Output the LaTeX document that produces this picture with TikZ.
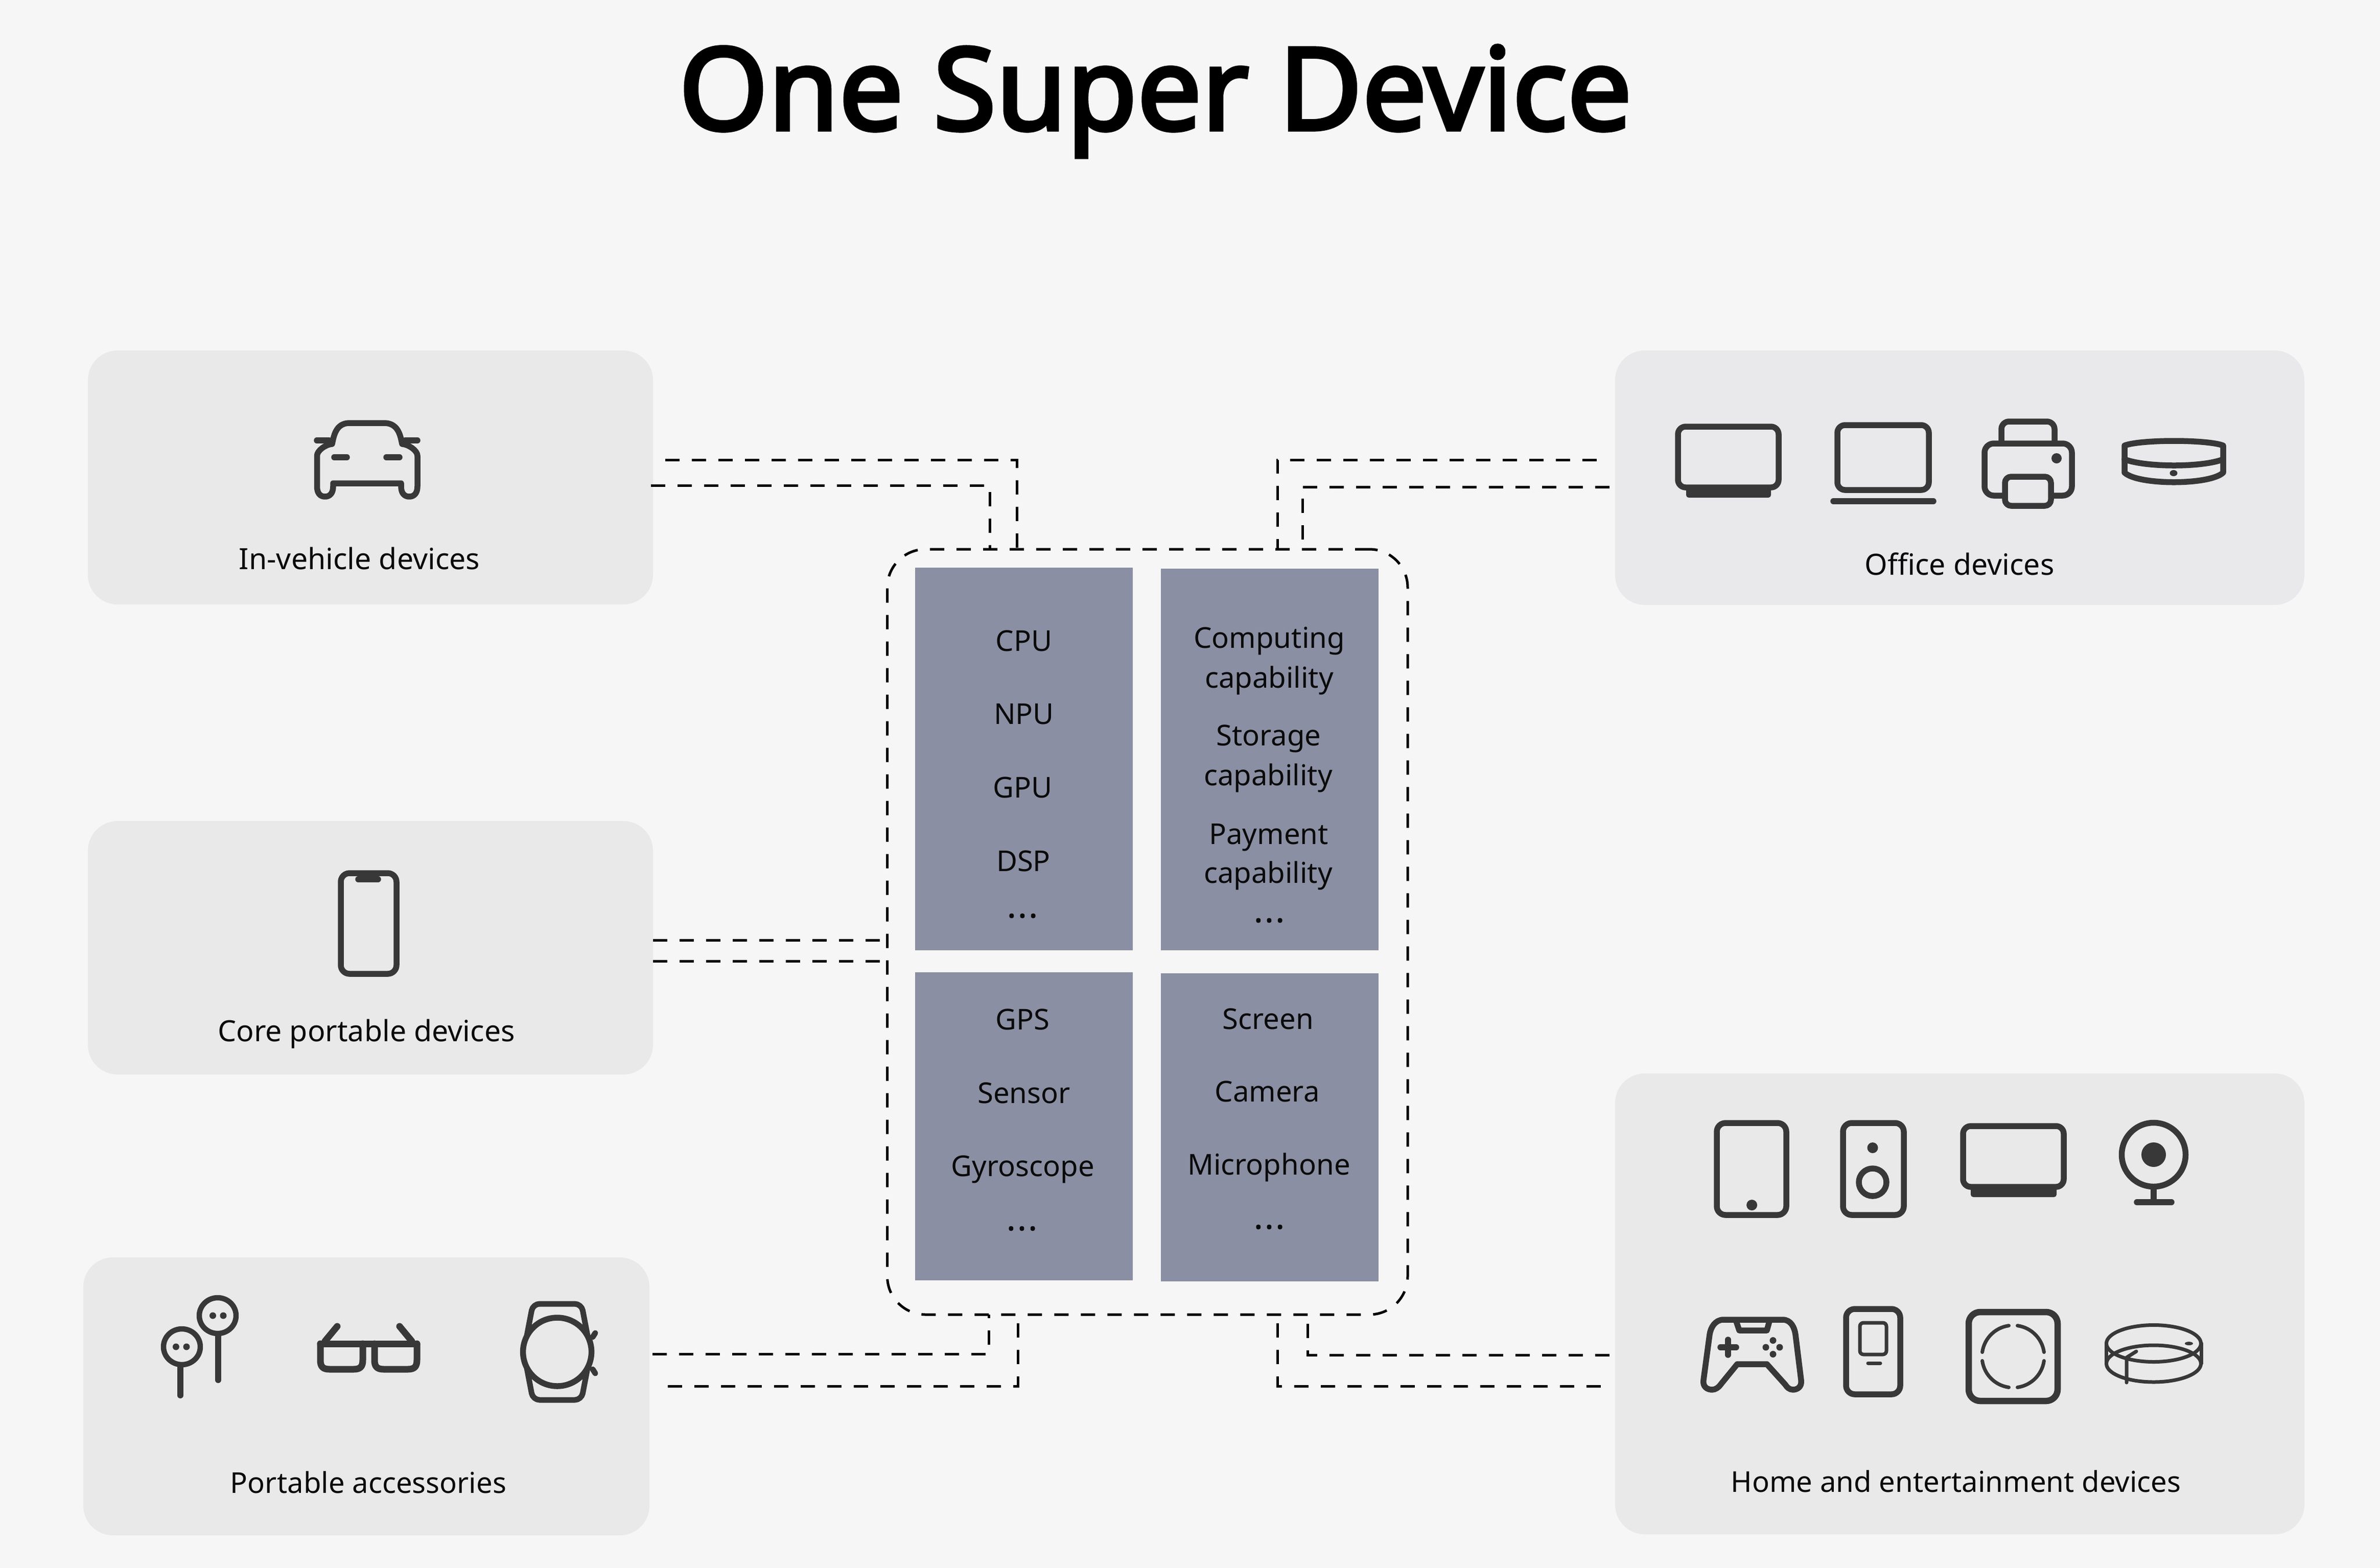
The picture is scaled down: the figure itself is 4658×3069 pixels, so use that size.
\documentclass[tikz,border=0pt]{standalone}
\usepackage{fontspec}
\setmainfont{Noto Sans}
\newfontfamily\titlefont{Noto Sans}[FakeBold=3.2]
\newfontfamily\dotfont{Noto Sans}[FakeBold=1.2]
\newcommand{\mydots}{{\dotfont\fontsize{13}{14}\selectfont .\kern0.75pt.\kern0.75pt.}}
\definecolor{bgc}{HTML}{F6F6F6}
\definecolor{panelc}{HTML}{E9E9E9}
\definecolor{panelo}{HTML}{E9E9EB}
\definecolor{blockc}{HTML}{8A8FA3}
\definecolor{iconc}{HTML}{383838}
\definecolor{txtc}{HTML}{0A0A0A}
\tikzset{
  panelbox/.style={fill=#1,draw=none,rounded corners=11.6pt,inner sep=0},
  blockbox/.style={fill=blockc,draw=none,inner sep=0},
  hubbox/.style={draw=black,line width=1pt,dash pattern=on 5.6pt off 4.8pt,rounded corners=15pt,inner sep=0},
  link/.style={draw=black,line width=1pt,dash pattern=on 5.6pt off 4.8pt},
  lab/.style={anchor=base,inner sep=0,text=txtc,font=\fontsize{11.25}{14}\selectfont},
  wide lab/.style={anchor=base,inner sep=0,text=txtc,font=\fontsize{11.45}{14}\selectfont},
  icon/.style={draw=iconc,line width=2.3pt,line cap=round,line join=round},
  thin icon/.style={draw=iconc,line width=1.4pt,line cap=round,line join=round},
  solid dot/.style={fill=iconc,draw=none},
}
\begin{document}
\begin{tikzpicture}[x=0.2pt,y=-0.2pt]
\path[fill=bgc,use as bounding box] (0,0) rectangle (4658,3069);
% panels
\node[panelbox=panelc,minimum width=221.2pt,minimum height=99.4pt] (car) at (725,934.5) {};
\node[panelbox=panelc,minimum width=221.2pt,minimum height=99.2pt] (core) at (725,1855) {};
\node[panelbox=panelc,minimum width=221.6pt,minimum height=108.8pt] (acc) at (717,2733) {};
\node[panelbox=panelo,minimum width=269.8pt,minimum height=99.6pt] (office) at (3835.5,935) {};
\node[panelbox=panelc,minimum width=269.8pt,minimum height=180.4pt] (home) at (3835.5,2552) {};
% hub and blocks
\node[hubbox,minimum width=203.7pt,minimum height=299.6pt] (hub) at (2245.75,1824) {};
\node[blockbox,minimum width=85.2pt,minimum height=149.8pt] (b1) at (2004,1485.5) {};
\node[blockbox,minimum width=85.2pt,minimum height=149.4pt] (b2) at (2485,1486.5) {};
\node[blockbox,minimum width=85.2pt,minimum height=120.6pt] (b3) at (2004,2204.5) {};
\node[blockbox,minimum width=85.2pt,minimum height=120.6pt] (b4) at (2485,2206.5) {};
% connector ends
\coordinate (carA) at (1302,900);
\coordinate (carB) at (1274,950);
\coordinate (hubA) at (1990,1075);
\coordinate (hubB) at (1937,1075);
\coordinate (offA) at (3125,900);
\coordinate (offB) at (3150,953);
\coordinate (hubC) at (2500,1075);
\coordinate (hubD) at (2549,1075);
\coordinate (coreA) at (1278,1840);
\coordinate (coreB) at (1278,1881);
\coordinate (hubE) at (1736.5,1840);
\coordinate (hubF) at (1736.5,1881);
\coordinate (accA) at (1277,2650);
\coordinate (accB) at (1307,2713);
\coordinate (hubG) at (1935,2573);
\coordinate (hubH) at (1992,2573);
\coordinate (homeA) at (3150,2652);
\coordinate (homeB) at (3133,2713);
\coordinate (hubI) at (2559,2573);
\coordinate (hubJ) at (2500,2573);
\draw[link] (carA) -| (hubA);
\draw[link] (carB) -| (hubB);
\draw[link] (offA) -| (hubC);
\draw[link] (offB) -| (hubD);
\draw[link] (coreA) -- (hubE);
\draw[link] (coreB) -- (hubF);
\draw[link] (accA) -| (hubG);
\draw[link] (accB) -| (hubH);
\draw[link] (homeA) -| (hubI);
\draw[link] (homeB) -| (hubJ);
% title
\node[anchor=base,inner sep=0,text=black,font=\titlefont\fontsize{44.8}{50}\selectfont] (title) at (2261,254) {One Super Device};
% panel labels
\node[wide lab] (lcar) at (703.5,1114) {In-vehicle devices};
\node[wide lab] (lcore) at (717,2038) {Core portable devices};
\node[lab] (lacc) at (721,2922) {Portable accessories};
\node[wide lab] (loff) at (3835,1125) {Office devices};
\node[lab] (lhome) at (3828,2920) {Home and entertainment devices};
% block texts
\node[lab] (t1) at (2004,1274) {CPU};
\node[lab] (t2) at (2004,1417) {NPU};
\node[lab] (t3) at (2002,1561) {GPU};
\node[lab] (t4) at (2003,1705.5) {DSP};
\node[lab] (t5) at (2001,1796) {\mydots};
\node[lab] (t6) at (2484,1268) {Computing};
\node[lab] (t7) at (2484,1346) {capability};
\node[lab] (t8) at (2483,1459) {Storage};
\node[lab] (t9) at (2482,1537) {capability};
\node[lab] (t10) at (2483,1652) {Payment};
\node[lab] (t11) at (2482,1728.5) {capability};
\node[lab] (t12) at (2484,1805) {\mydots};
\node[lab] (t13) at (2001,2015) {GPS};
\node[lab] (t14) at (2004,2159) {Sensor};
\node[lab] (t15) at (2002,2302) {Gyroscope};
\node[lab] (t16) at (2000,2408) {\mydots};
\node[lab] (t17) at (2482,2014) {Screen};
\node[lab] (t18) at (2480,2156) {Camera};
\node[lab] (t19) at (2483.5,2299.5) {Microphone};
\node[lab] (t20) at (2484,2405) {\mydots};
% --- car
\draw[icon] (620.5,892) -- (620.5,952) .. controls (620.5,966) and (627,972) .. (636,972) .. controls (645,972) and (652,966) .. (652,952) -- (652,946) -- (785,946) -- (785,952) .. controls (785,966) and (792,972) .. (801,972) .. controls (810,972) and (817,966) .. (817,952) -- (817,892) .. controls (817,882) and (800,870) .. (787,869) .. controls (784,856) and (781,828) .. (752,828) -- (684,828) .. controls (656,828) and (653,856) .. (650,869) .. controls (637,870) and (620.5,882) .. cycle;
\draw[icon] (620,862) -- (644,862);
\draw[icon] (793,862) -- (817,862);
\draw[icon] (654,895) -- (679,895);
\draw[icon] (756,895) -- (782,895);
% --- phone
\draw[icon,rounded corners=3.4pt] (667,1709) rectangle (776,1906);
\draw[icon] (701,1721) -- (740,1721);
% --- earbuds
\draw[icon,line width=2.1pt] (356,2636) ellipse[x radius=7.2pt,y radius=7pt];
\draw[icon,line width=2.4pt] (353,2676) -- (353,2731);
\fill[solid dot] (344.4,2636) circle[radius=1.3pt];
\fill[solid dot] (365,2636) circle[radius=1.3pt];
\draw[icon,line width=2.1pt] (426,2575) ellipse[x radius=7.2pt,y radius=7pt];
\draw[icon,line width=2.4pt] (427,2615) -- (427,2701);
\fill[solid dot] (416.5,2575) circle[radius=1.3pt];
\fill[solid dot] (437,2575) circle[radius=1.3pt];
% --- glasses
\draw[icon,line width=2.6pt] (627,2630) -- (816,2630);
\draw[icon,line width=2.6pt] (627,2630) -- (627,2662) .. controls (627,2675) and (632,2680) .. (645,2680) -- (692,2680) .. controls (705,2680) and (710,2675) .. (710,2662) -- (710,2630);
\draw[icon,line width=2.6pt] (733,2630) -- (733,2662) .. controls (733,2675) and (738,2680) .. (751,2680) -- (798,2680) .. controls (811,2680) and (816,2675) .. (816,2662) -- (816,2630);
\draw[icon,line width=2.6pt] (636,2625) -- (660,2596);
\draw[icon,line width=2.6pt] (806,2625) -- (782,2596);
% --- watch
\draw[icon,line width=2.2pt,rounded corners=2.6pt] (1025,2646) -- (1043,2552) -- (1138,2552) -- (1156,2646) -- (1138,2740) -- (1043,2740) -- cycle;
\draw[icon,fill=panelc,line width=2.3pt] (1090.6,2646) circle[radius=13.4pt];
\draw[icon,line width=2.2pt] (1160,2617) -- (1165,2609);
\draw[icon,line width=2.2pt] (1160,2680) -- (1165,2688);
% --- office: monitor
\fill[solid dot,rounded corners=1pt] (3300,950) rectangle (3466,974);
\draw[icon,fill=panelo,rounded corners=3pt] (3284,835) rectangle (3481,954);
% laptop
\draw[icon,rounded corners=3pt] (3596,832) rectangle (3775,959);
\draw[icon] (3588,981) -- (3784,981);
% printer
\draw[icon,rounded corners=3pt] (3917,868) -- (3917,825) -- (4021,825) -- (4021,868);
\draw[icon,rounded corners=3.6pt] (3884,868) rectangle (4055,970);
\draw[icon,fill=panelo,rounded corners=2.4pt] (3924,933) rectangle (4014,990);
\fill[solid dot] (4025,897) circle[radius=2pt];
% hub device
\draw[icon] (4158,872) .. controls (4190,860) and (4320,860) .. (4351,872) -- (4351,925) .. controls (4325,950) and (4184,950) .. (4158,925) -- cycle;
\draw[icon] (4158,899) .. controls (4200,915) and (4310,915) .. (4351,899);
\fill[solid dot] (4254,926) ellipse[x radius=1.5pt,y radius=1.2pt];
% --- home row 1: tablet
\draw[icon,rounded corners=3.4pt] (3360,2198) rectangle (3496,2378);
\fill[solid dot] (3428.6,2358.6) circle[radius=2.1pt];
% speaker
\draw[icon,rounded corners=3.4pt] (3607,2198) rectangle (3726,2378);
\fill[solid dot] (3665,2246.5) circle[radius=2.1pt];
\draw[icon] (3665,2314) circle[radius=5.4pt];
% tv
\fill[solid dot,rounded corners=1pt] (3857,2315) rectangle (4025,2343);
\draw[icon,fill=panelc,rounded corners=3pt] (3842,2204) rectangle (4039,2323);
% camera
\draw[icon] (4215,2260) circle[radius=12.5pt];
\fill[solid dot] (4215,2260) circle[radius=4.8pt];
\draw[icon] (4215,2329) -- (4215,2353);
\draw[icon] (4182,2353) -- (4250,2353);
% --- gamepad
\draw[icon] (3373,2583) -- (3489,2583) .. controls (3505,2583) and (3512,2598) .. (3514,2612) -- (3525,2701) .. controls (3527,2715) and (3517,2720) .. (3509,2720) .. controls (3502,2720) and (3497,2715) .. (3494,2710) -- (3458,2670) -- (3400,2670) -- (3369,2708) .. controls (3364,2715) and (3358,2720) .. (3351,2720) .. controls (3341,2720) and (3332,2714) .. (3334,2701) -- (3346,2612) .. controls (3348,2598) and (3357,2583) .. (3373,2583) -- cycle;
\draw[icon] (3398,2586) -- (3404,2604) -- (3458,2604) -- (3463,2586);
\draw[icon] (3367,2637) -- (3398,2637);
\draw[icon] (3382,2622) -- (3382,2652);
\fill[solid dot] (3470,2623.6) circle[radius=1.3pt];
\fill[solid dot] (3470,2650.5) circle[radius=1.3pt];
\fill[solid dot] (3456,2637) circle[radius=1.3pt];
\fill[solid dot] (3483,2637) circle[radius=1.3pt];
% screen device
\draw[icon,rounded corners=3.4pt] (3613,2562) rectangle (3719,2729);
\draw[thin icon,rounded corners=1.4pt] (3640,2589) rectangle (3692,2651);
\draw[thin icon] (3656,2668) -- (3680,2668);
% scale
\draw[icon,line width=2.5pt,rounded corners=4.5pt] (3853,2568) rectangle (4027,2742);
\draw[thin icon] plot[domain=8:82,samples=16] ({3940+61*cos(\x)},{2655+61*sin(\x)});
\draw[thin icon] plot[domain=98:172,samples=16] ({3940+61*cos(\x)},{2655+61*sin(\x)});
\draw[thin icon] plot[domain=188:262,samples=16] ({3940+61*cos(\x)},{2655+61*sin(\x)});
\draw[thin icon] plot[domain=278:352,samples=16] ({3940+61*cos(\x)},{2655+61*sin(\x)});
% ring device
\draw[thin icon] (4215,2629.5) ellipse[x radius=18.5pt,y radius=7.2pt];
\draw[thin icon] (4215,2669) ellipse[x radius=18.5pt,y radius=7.2pt];
\draw[thin icon] (4122,2629) -- (4122,2669);
\draw[thin icon] (4308,2629) -- (4308,2669);
\draw[thin icon] (4162,2706) -- (4162,2657) -- (4181,2645);
\fill[solid dot] (4284,2629.6) ellipse[x radius=1.6pt,y radius=.7pt];
\end{tikzpicture}
\end{document}
